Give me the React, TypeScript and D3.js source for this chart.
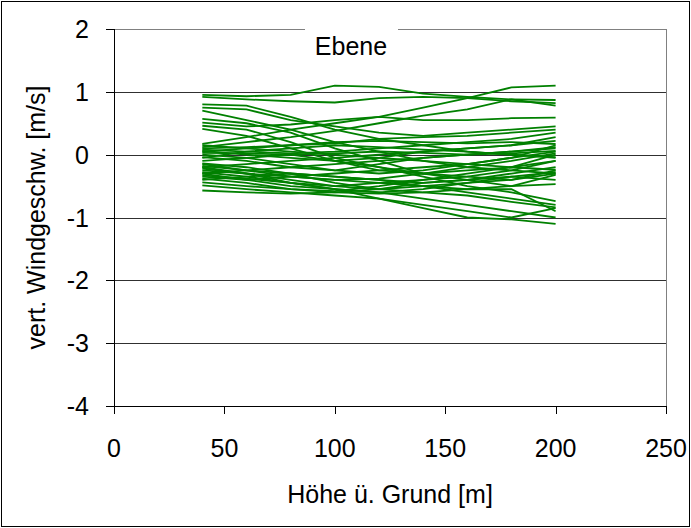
import React from "react";
import * as d3 from "d3";

// Heights above ground [m] at which each profile was sampled
const heights = [40, 60, 80, 100, 120, 140, 160, 180, 200];

// Vertical wind speed profiles [m/s], one array per measurement run
const profiles: number[][] = [
  [0.95, 0.93, 0.95, 1.1, 1.08, 0.97, 0.92, 0.88, 0.78],
  [0.92, 0.88, 0.85, 0.83, 0.9, 0.92, 0.9, 0.85, 0.82],
  [0.8, 0.78, 0.6, 0.4, 0.25, 0.15, 0.05, 0.0, -0.05],
  [0.75, 0.72, 0.55, 0.45, 0.35, 0.3, 0.35, 0.4, 0.45],
  [0.7, 0.55, 0.4, 0.2, 0.05, -0.1, -0.2, -0.25, -0.3],
  [0.57, 0.5, 0.35, 0.1, -0.1, -0.3, -0.4, -0.5, -0.47],
  [0.51, 0.45, 0.48, 0.55, 0.6, 0.55, 0.55, 0.58, 0.59],
  [0.46, 0.4, 0.2, -0.05, -0.2, -0.35, -0.5, -0.6, -0.74],
  [0.41, 0.3, 0.1, -0.1, -0.25, -0.3, -0.25, -0.2, -0.24],
  [0.17, 0.28, 0.4, 0.5, 0.6, 0.75, 0.9, 1.07, 1.1],
  [0.12, 0.2, 0.28, 0.38, 0.5, 0.62, 0.72, 0.88, 0.87],
  [0.1, 0.12, 0.15, 0.18, 0.25, 0.28, 0.3, 0.35, 0.4],
  [0.08, 0.05, 0.02, 0.05, 0.1, 0.15, 0.2, 0.25, 0.35],
  [0.06, 0.0, -0.05, -0.1, -0.05, 0.05, 0.1, 0.15, 0.22],
  [0.05, 0.1, 0.15, 0.2, 0.22, 0.2, 0.18, 0.2, 0.17],
  [0.03, 0.02, 0.0, -0.1, -0.2, -0.3, -0.35, -0.4, -0.3],
  [-0.04, -0.1, -0.2, -0.25, -0.15, -0.05, 0.0, 0.05, 0.12],
  [-0.1, -0.05, 0.0, 0.02, 0.05, 0.03, 0.0, 0.02, 0.06],
  [-0.14, -0.2, -0.3, -0.45, -0.55, -0.6, -0.65, -0.75, -0.84],
  [-0.18, -0.25, -0.3, -0.35, -0.4, -0.45, -0.4, -0.3, -0.2],
  [-0.2, -0.15, -0.1, -0.05, 0.0, 0.05, 0.1, 0.15, 0.28],
  [-0.22, -0.3, -0.4, -0.5, -0.55, -0.5, -0.45, -0.35, -0.28],
  [-0.25, -0.3, -0.35, -0.4, -0.38, -0.3, -0.2, -0.1, 0.02],
  [-0.28, -0.35, -0.45, -0.5, -0.45, -0.4, -0.35, -0.25, -0.1],
  [-0.3, -0.4, -0.5, -0.55, -0.6, -0.7, -0.8, -0.9, -1.0],
  [-0.33, -0.38, -0.45, -0.55, -0.7, -0.85, -1.0, -1.03, -1.1],
  [-0.35, -0.4, -0.35, -0.3, -0.25, -0.2, -0.15, -0.05, 0.05],
  [-0.38, -0.45, -0.55, -0.6, -0.62, -0.6, -0.55, -0.5, -0.32],
  [-0.44, -0.5, -0.55, -0.58, -0.5, -0.4, -0.3, -0.2, 0.0],
  [-0.49, -0.55, -0.6, -0.65, -0.7, -0.8, -0.9, -1.0, -0.85],
  [-0.57, -0.6, -0.62, -0.6, -0.55, -0.45, -0.4, -0.35, -0.4],
  [-0.15, -0.25, -0.35, -0.4, -0.45, -0.5, -0.55, -0.55, -0.9],
  [-0.3, -0.25, -0.2, -0.15, -0.1, -0.05, 0.0, 0.05, 0.1],
  [0.0, -0.05, -0.15, -0.25, -0.3, -0.25, -0.15, -0.05, 0.15],
  [-0.2, -0.3, -0.45, -0.55, -0.6, -0.55, -0.45, -0.4, -0.25],
  [-0.05, 0.05, 0.1, 0.15, 0.12, 0.08, 0.05, 0.0, -0.04],
  [0.15, 0.1, 0.05, 0.0, -0.05, -0.1, -0.15, -0.2, -0.1],
  [-0.4, -0.35, -0.3, -0.35, -0.4, -0.5, -0.6, -0.7, -0.8],
];

const xTicks = [0, 50, 100, 150, 200, 250];
const yTicks = [-4, -3, -2, -1, 0, 1, 2];

const title = "Ebene";
const xTitle = "Höhe ü. Grund [m]";
const yTitle = "vert. Windgeschw. [m/s]";

const W = 691;
const H = 528;
const left = 114;
const right = 666;
const top = 29;
const bottom = 406;
const font = "Arial, 'Liberation Sans', sans-serif";
const fs = 25;

export default function App() {
  const x = d3.scaleLinear().domain([0, 250]).range([left, right]);
  const y = d3.scaleLinear().domain([-4, 2]).range([bottom, top]);
  const line = d3
    .line<number>()
    .x((_, i) => x(heights[i]))
    .y((v) => y(v));

  return (
    <svg
      width={W}
      height={H}
      style={{ position: "absolute", left: 0, top: 0 }}
      fontFamily={font}
    >
      <rect x={0} y={0} width={W} height={H} fill="#fff" />
      <rect x={1.5} y={1.5} width={W - 3} height={H - 3} fill="none" stroke="#000" strokeWidth={1} />

      {/* horizontal gridlines */}
      {yTicks.map((t) => (
        <line
          key={"g" + t}
          x1={left}
          x2={right}
          y1={Math.round(y(t)) + 0.5}
          y2={Math.round(y(t)) + 0.5}
          stroke={t === 2 ? "#808080" : "#303030"}
          strokeWidth={1}
        />
      ))}
      {/* right frame */}
      <line x1={right + 0.5} x2={right + 0.5} y1={top} y2={bottom} stroke="#808080" strokeWidth={1} />

      {/* profiles */}
      <g>
        {profiles.map((p, i) => (
          <path key={i} d={line(p) ?? ""} fill="none" stroke="#008000" strokeWidth={1.8} />
        ))}
      </g>

      {/* y axis */}
      <line x1={left + 0.5} x2={left + 0.5} y1={top} y2={bottom} stroke="#000" strokeWidth={1} />
      {yTicks.map((t) => (
        <g key={"y" + t}>
          <line
            x1={left - 8}
            x2={left}
            y1={Math.round(y(t)) + 0.5}
            y2={Math.round(y(t)) + 0.5}
            stroke="#000"
          />
          <text x={89} y={y(t) + 9} textAnchor="end" fontSize={fs} fill="#000">
            {t}
          </text>
        </g>
      ))}

      {/* x axis */}
      <line x1={left} x2={right} y1={bottom + 0.5} y2={bottom + 0.5} stroke="#000" strokeWidth={1} />
      {xTicks.map((t) => (
        <g key={"x" + t}>
          <line
            x1={Math.round(x(t)) + 0.5}
            x2={Math.round(x(t)) + 0.5}
            y1={bottom}
            y2={bottom + 8}
            stroke="#000"
          />
          <text x={x(t)} y={457} textAnchor="middle" fontSize={fs} fill="#000">
            {t}
          </text>
        </g>
      ))}

      {/* title box */}
      <rect x={305} y={22} width={93} height={32} fill="#fff" />
      <text x={351} y={55} textAnchor="middle" fontSize={fs} fill="#000">
        {title}
      </text>

      <text x={(left + right) / 2} y={503} textAnchor="middle" fontSize={fs} fill="#000">
        {xTitle}
      </text>
      <text
        transform={`translate(45, ${(top + bottom) / 2}) rotate(-90)`}
        textAnchor="middle"
        fontSize={fs}
        fill="#000"
      >
        {yTitle}
      </text>
    </svg>
  );
}
